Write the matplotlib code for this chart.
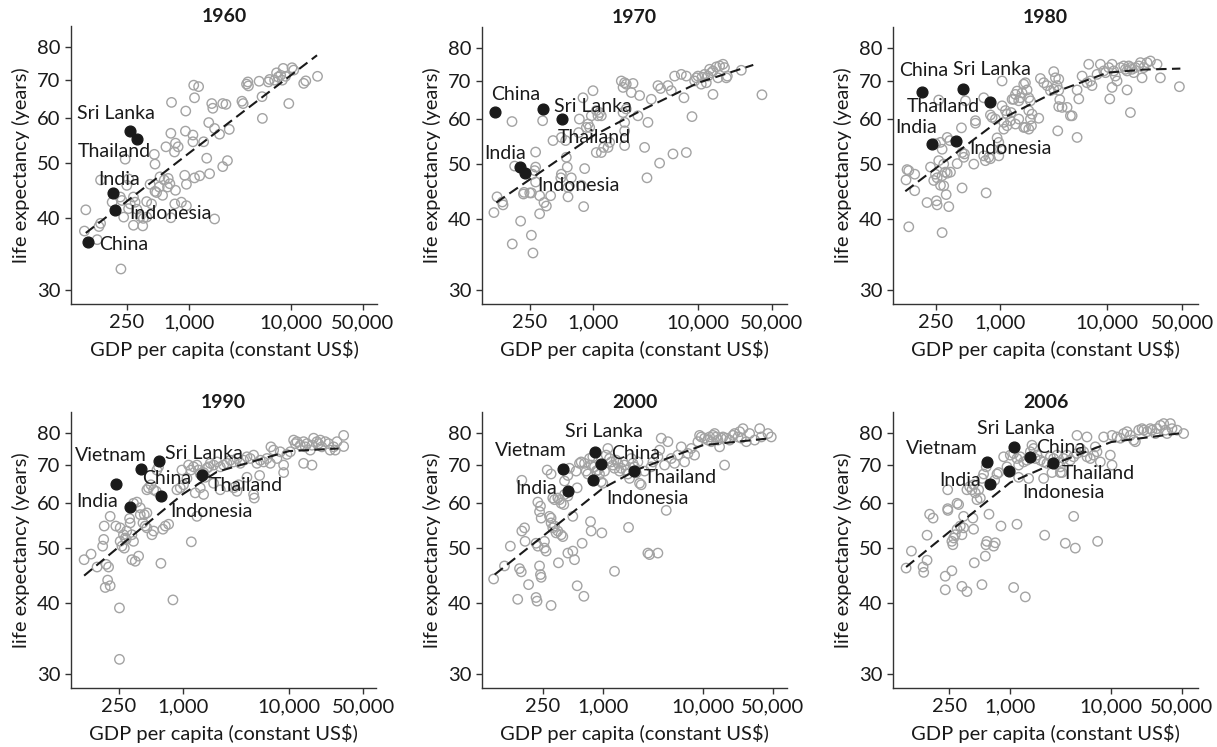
import matplotlib
matplotlib.use("Agg")
import matplotlib.pyplot as plt
from matplotlib.ticker import FixedLocator, FixedFormatter, NullLocator

plt.rcParams['font.family'] = ['Lato', 'DejaVu Sans']

# GDP per capita (constant US$), life expectancy (years) -- grey points
pts_1960 = [(18100, 71.0), (10200, 73.5), (10600, 72.8), (8370, 73.3), (8810, 71.0), (7210, 72.0), (7480, 70.8),
            (6900, 69.9), (5990, 69.4), (4870, 69.6), (5200, 65.4), (5240, 59.9), (3780, 69.4), (3670, 68.8),
            (3830, 68.3), (3310, 64.2), (3400, 63.6), (9490, 63.6), (13270, 69.0), (13900, 69.7), (7900, 71.3),
            (8200, 69.9), (6170, 70.1), (1120, 68.5), (1250, 68.1), (1140, 65.1), (680, 63.9), (936, 61.7),
            (1680, 63.6), (1720, 62.4), (2150, 63.6), (2310, 63.4), (1570, 58.9), (1790, 57.5), (2000, 56.2),
            (2490, 57.3), (1100, 56.0), (1100, 54.5), (930, 56.9), (1400, 54.5), (670, 56.4), (600, 53.4),
            (743, 54.2), (789, 53.4), (727, 52.3), (462, 51.8), (469, 49.8), (240, 50.8), (1500, 51.0),
            (2390, 50.5), (2150, 49.3), (1600, 47.9), (915, 47.6), (950, 45.9), (1140, 47.1), (1280, 47.5),
            (631, 47.0), (655, 46.0), (622, 45.4), (577, 46.7), (516, 45.4), (486, 44.4), (469, 44.6),
            (556, 43.9), (420, 45.9), (389, 42.8), (732, 42.4), (849, 42.7), (950, 42.1), (670, 40.1),
            (1790, 39.9), (389, 40.2), (361, 40.0), (336, 40.3), (312, 41.5), (300, 42.7), (289, 43.6),
            (289, 38.9), (356, 38.8), (269, 42.4), (259, 41.6), (232, 40.2), (223, 43.0), (215, 43.6),
            (179, 42.7), (138, 39.2), (133, 38.7), (128, 36.7), (99, 41.4), (96, 38.0), (218, 32.6),
            (249, 45.7), (259, 46.9), (138, 46.7), (434, 42.4), (525, 47.3), (743, 44.8)]

pts_1970 = [(113, 41.0), (121, 43.7), (136, 42.8), (138, 42.3), (168, 59.3), (169, 36.1), (203, 39.6),
            (178, 49.5), (219, 44.5), (216, 44.2), (257, 44.4), (248, 44.4), (257, 37.4), (266, 34.8),
            (282, 52.4), (282, 49.3), (276, 48.6), (263, 47.9), (282, 46.4), (308, 43.9), (339, 42.7),
            (357, 42.1), (308, 40.8), (329, 59.5), (413, 54.9), (496, 55.6), (392, 43.9), (496, 47.9),
            (490, 47.2), (565, 49.3), (553, 51.3), (545, 54.9), (574, 45.4), (574, 43.7), (617, 47.2),
            (725, 56.7), (736, 59.9), (797, 65.3), (858, 57.9), (827, 49.0), (809, 42.0), (768, 45.8),
            (993, 67.2), (890, 58.7), (923, 57.9), (957, 60.7), (1068, 62.0), (1149, 61.5), (1108, 60.7),
            (1191, 60.7), (1068, 52.3), (1191, 52.3), (1254, 53.4), (1380, 53.4), (1430, 54.5), (1848, 69.9),
            (1988, 69.4), (2060, 69.0), (1920, 68.1), (2388, 69.2), (1920, 61.5), (2060, 62.4), (1988, 59.1),
            (1988, 57.1), (1988, 53.8), (2300, 66.7), (2762, 65.9), (2660, 60.7), (3080, 53.4), (3245, 47.2),
            (3315, 59.1), (3566, 64.9), (4128, 68.6), (4375, 67.8), (4280, 50.1), (5740, 52.0), (7690, 52.3),
            (5140, 68.6), (5530, 67.2), (5950, 71.3), (6890, 71.8), (7690, 71.3), (7300, 65.3), (8710, 60.5),
            (9230, 69.9), (9590, 70.8), (9930, 71.3), (10840, 71.0), (11490, 71.8), (12370, 71.3),
            (12820, 73.3), (13300, 72.3), (13800, 72.8), (14840, 74.0), (15970, 74.3), (17180, 74.8),
            (17760, 73.8), (18490, 70.8), (18900, 71.3), (25690, 73.0), (13800, 66.2), (40400, 66.1),
            (10670, 69.0), (11920, 69.4), (15400, 70.8)]

pts_1980 = [(134, 48.8), (139, 48.6), (131, 46.8), (158, 47.9), (158, 44.8), (139, 38.7), (206, 42.7),
            (252, 43.0), (256, 42.3), (329, 42.0), (285, 37.8), (311, 44.1), (438, 45.3), (735, 44.4),
            (222, 49.3), (247, 47.9), (256, 47.2), (238, 46.7), (265, 50.6), (295, 49.9), (305, 48.3),
            (285, 47.6), (318, 48.1), (341, 48.3), (275, 45.8), (295, 45.7), (265, 64.7), (247, 54.2),
            (275, 54.5), (285, 53.0), (318, 55.6), (337, 54.9), (432, 57.8), (438, 52.3), (454, 51.3),
            (461, 52.0), (394, 50.0), (471, 64.5), (564, 49.9), (584, 59.5), (584, 58.9), (698, 65.3),
            (698, 51.6), (778, 51.3), (806, 51.0), (724, 50.6), (806, 60.9), (836, 60.3), (898, 59.9),
            (931, 55.5), (965, 54.5), (1036, 69.9), (965, 51.6), (1000, 53.0), (1036, 63.2), (1114, 62.0),
            (1154, 61.1), (1074, 59.1), (1154, 58.3), (1074, 57.5), (1240, 59.5), (1285, 64.9), (1332, 64.9),
            (1381, 66.2), (1431, 67.1), (1483, 64.5), (1537, 65.3), (1593, 66.6), (1651, 69.0), (1712, 69.4),
            (1775, 67.4), (1840, 65.3), (1907, 64.5), (1840, 62.0), (1907, 59.9), (1976, 61.1), (1651, 57.9),
            (1381, 58.7), (1483, 59.9), (1258, 61.5), (1950, 58.3), (1840, 57.5), (1712, 57.9), (2281, 60.1),
            (2364, 70.6), (2541, 69.4), (2730, 68.6), (2933, 67.2), (3150, 67.6), (3150, 72.6), (3266, 70.8),
            (3509, 70.4), (3384, 68.6), (3509, 67.3), (3586, 64.8), (3509, 63.0), (3768, 62.8), (3434, 57.1),
            (4198, 62.8), (4510, 60.7), (4680, 60.7), (5210, 55.6), (5400, 65.0), (5210, 67.4), (6690, 74.8),
            (5800, 71.3), (6450, 69.4), (6930, 69.9), (8000, 71.8), (7180, 68.6), (8600, 74.8), (9240, 72.8),
            (9600, 72.3), (10290, 73.8), (11060, 74.8), (11460, 72.8), (11880, 71.3), (12310, 69.9),
            (13220, 73.8), (14210, 74.3), (14730, 73.3), (15270, 72.8), (15830, 74.3), (16410, 73.8),
            (17010, 73.3), (17630, 72.3), (18270, 73.8), (19630, 74.3), (20350, 75.3), (21860, 73.8),
            (23480, 75.3), (25230, 75.8), (29110, 74.8), (31270, 70.8), (11060, 68.1), (10520, 65.0),
            (15270, 67.4), (16410, 61.5), (21090, 70.8), (47100, 68.3)]

pts_1990 = [(117, 47.7), (136, 48.8), (155, 46.3), (175, 50.4), (179, 51.8), (181, 54.7), (189, 46.8),
            (199, 46.3), (206, 56.9), (195, 43.9), (206, 42.9), (185, 42.6), (233, 54.7), (256, 54.3),
            (256, 51.4), (266, 50.4), (280, 50.0), (286, 52.1), (275, 52.8), (292, 51.8), (295, 53.6),
            (252, 39.2), (252, 31.8), (314, 56.4), (318, 55.4), (330, 52.8), (342, 51.4), (330, 47.7),
            (355, 47.4), (382, 48.4), (342, 60.0), (368, 60.3), (396, 58.9), (396, 57.3), (420, 55.4),
            (432, 57.3), (457, 57.7), (457, 63.4), (474, 63.9), (499, 64.7), (529, 63.4), (560, 63.0),
            (568, 68.7), (589, 69.6), (441, 54.7), (457, 54.3), (510, 52.8), (529, 53.6), (620, 47.0),
            (648, 54.0), (682, 54.7), (733, 55.1), (805, 40.5), (878, 63.4), (944, 63.9), (978, 68.7),
            (1014, 64.7), (1091, 66.4), (1131, 70.1), (1190, 68.7), (1260, 69.6), (1355, 70.1), (1405, 68.7),
            (1457, 67.6), (1567, 68.0), (1623, 66.7), (1685, 69.2), (1746, 69.6), (1810, 70.6), (1946, 70.1),
            (2092, 71.0), (2250, 69.6), (2419, 70.1), (2600, 70.6), (2798, 71.5), (3006, 71.0), (3230, 72.0),
            (3472, 70.6), (3735, 71.5), (4015, 72.5), (4315, 72.0), (4640, 73.0), (4990, 70.6), (5370, 71.5),
            (5770, 71.0), (6200, 72.0), (6670, 70.6), (1200, 51.3), (1355, 56.9), (1307, 62.6), (1457, 63.9),
            (1567, 62.2), (1946, 65.1), (2250, 63.4), (2600, 64.2), (3006, 63.9), (3350, 64.7), (3230, 63.0),
            (4015, 66.7), (4640, 62.2), (4710, 61.3), (5290, 67.2), (6760, 75.5), (7170, 74.5), (8280, 74.0),
            (8910, 70.1), (7700, 72.0), (9570, 73.2), (10300, 74.0), (8910, 68.0), (11070, 77.6),
            (11480, 76.5), (11890, 77.1), (12790, 76.0), (13750, 77.1), (14260, 75.5), (14790, 76.5),
            (15900, 74.5), (17090, 78.2), (18370, 77.1), (18980, 76.5), (19770, 77.6), (20400, 75.5),
            (22030, 77.1), (23670, 76.5), (24440, 74.5), (26380, 75.5), (27330, 74.5), (28370, 77.1),
            (32800, 79.1), (32800, 75.6), (13750, 70.6), (16480, 70.1), (16480, 76.0)]

pts_2000 = [(81, 44.1), (104, 46.5), (119, 50.4), (147, 46.0), (153, 45.4), (141, 40.6), (181, 43.1),
            (155, 53.6), (165, 54.3), (167, 51.4), (155, 65.9), (215, 40.9), (220, 40.3), (233, 46.5),
            (238, 44.9), (242, 44.4), (224, 60.3), (238, 59.3), (233, 58.0), (242, 56.5), (215, 51.0),
            (224, 50.4), (261, 51.4), (261, 50.0), (271, 49.4), (278, 68.7), (304, 67.6), (304, 39.6),
            (293, 56.9), (304, 56.5), (316, 54.3), (304, 55.4), (329, 54.7), (341, 53.2), (355, 53.6),
            (383, 52.8), (398, 52.4), (316, 61.3), (329, 60.9), (355, 61.3), (369, 60.9), (383, 60.0),
            (407, 59.7), (414, 62.2), (447, 61.8), (360, 47.1), (447, 49.0), (501, 49.4), (414, 65.7),
            (447, 67.2), (464, 69.2), (541, 68.4), (554, 63.9), (584, 70.6), (607, 71.0), (656, 70.6),
            (681, 68.4), (708, 67.6), (736, 72.0), (764, 70.1), (794, 72.5), (825, 69.6), (858, 68.4),
            (891, 68.7), (926, 67.6), (962, 65.5), (1000, 65.1), (1039, 68.4), (1080, 73.0), (1122, 75.0),
            (1166, 72.0), (1212, 71.0), (1259, 70.1), (1308, 69.2), (1359, 71.5), (1413, 70.6), (1468, 68.4),
            (1526, 69.2), (1585, 71.0), (1647, 70.1), (1711, 68.7), (1778, 67.6), (1848, 66.4), (1920, 72.0),
            (1995, 70.6), (2073, 69.6), (2154, 67.9), (2239, 71.0), (2326, 65.1), (2415, 64.7), (501, 56.9),
            (521, 47.7), (554, 42.9), (646, 41.1), (764, 53.6), (621, 51.0), (753, 55.7), (977, 53.2),
            (1308, 45.5), (1806, 54.4), (2818, 49.0), (2930, 48.7), (3548, 49.0), (4300, 58.3), (2610, 68.4),
            (3040, 69.6), (3162, 71.0), (3548, 72.5), (3690, 74.5), (3830, 78.2), (4140, 70.1), (4470, 77.1),
            (4820, 72.0), (5210, 70.6), (5620, 73.0), (6070, 75.5), (6560, 71.0), (7080, 73.5), (7640, 75.0),
            (8250, 73.0), (8910, 77.1), (9260, 79.1), (9620, 78.6), (10390, 78.2), (11220, 77.6),
            (11660, 78.6), (12120, 77.1), (12590, 79.1), (13080, 79.7), (13590, 78.6), (14130, 77.6),
            (14680, 75.5), (15250, 78.2), (15850, 78.6), (16460, 70.1), (17100, 78.2), (18480, 77.6),
            (19950, 79.1), (20730, 79.7), (22390, 78.6), (23260, 80.3), (24170, 78.2), (25110, 81.3),
            (27120, 77.1), (29290, 79.7), (32880, 77.6), (36900, 81.3), (38320, 78.6), (44670, 79.7),
            (48200, 78.6)]

pts_2006 = [(93, 46.1), (105, 49.4), (137, 46.3), (139, 45.3), (150, 47.6), (150, 52.7), (159, 57.4),
            (172, 56.5), (227, 44.6), (264, 45.6), (227, 42.2), (240, 63.4), (241, 58.3), (240, 58.7),
            (275, 52.1), (270, 50.7), (264, 51.4), (285, 52.8), (297, 54.0), (297, 60.0), (308, 59.7),
            (320, 54.7), (332, 52.8), (345, 54.3), (345, 56.9), (332, 42.8), (372, 41.9), (372, 63.4),
            (396, 64.2), (433, 64.7), (417, 63.4), (450, 62.6), (468, 60.9), (486, 63.4), (505, 61.3),
            (524, 66.4), (544, 67.6), (578, 69.6), (433, 54.0), (426, 56.5), (440, 47.1), (524, 43.1),
            (566, 48.4), (574, 50.7), (587, 51.4), (615, 57.4), (684, 50.4), (710, 51.1), (700, 65.9),
            (738, 67.6), (766, 68.0), (808, 54.7), (859, 72.5), (927, 69.6), (1000, 73.0), (1079, 73.5),
            (1164, 72.0), (1256, 72.5), (1209, 70.1), (1355, 71.0), (1462, 71.5), (1578, 74.0), (1639, 76.0),
            (1702, 75.0), (1769, 72.0), (1837, 73.0), (1982, 71.5), (2138, 71.0), (2307, 70.6), (2489, 72.5),
            (2686, 72.0), (2898, 73.0), (3010, 71.0), (3127, 69.6), (3248, 68.0), (3374, 72.0), (3640, 73.0),
            (3927, 71.5), (4237, 72.5), (4572, 73.5), (4932, 75.0), (5321, 74.0), (5741, 72.5), (6194, 72.0),
            (6683, 73.0), (6942, 75.5), (7210, 74.0), (1079, 42.6), (1164, 55.1), (1408, 41.0), (1519, 66.4),
            (1209, 66.7), (2138, 66.4), (2188, 52.7), (2585, 68.0), (3127, 68.0), (3504, 51.0), (4401, 50.0),
            (4237, 56.9), (7320, 51.4), (4572, 79.1), (5741, 78.6), (7780, 71.0), (9770, 73.0), (10160, 70.1),
            (8400, 78.6), (10160, 79.1), (11380, 78.6), (12280, 78.2), (13250, 79.7), (14300, 80.3),
            (15430, 79.1), (16650, 77.6), (17290, 77.1), (18660, 80.8), (20140, 81.3), (20910, 80.8),
            (22560, 80.3), (24340, 81.3), (25290, 80.8), (27300, 79.7), (28350, 81.3), (30590, 82.4),
            (32990, 83.0), (34270, 80.8), (35590, 79.7), (38390, 83.0), (39870, 81.3), (44670, 80.8),
            (52000, 79.7)]

# highlighted countries: name, GDP per capita, life expectancy
hl_1960 = [("Sri Lanka", 269, 56.9), ("Thailand", 312, 55.2), ("India", 181, 44.3),
           ("Indonesia", 192, 41.3), ("China", 104, 36.3)]
hl_1970 = [("China", 115, 61.7), ("Sri Lanka", 329, 62.3), ("Thailand", 507, 59.8),
           ("India", 202, 49.4), ("Indonesia", 225, 48.1)]
hl_1980 = [("China", 183, 66.9), ("Sri Lanka", 445, 67.6), ("Thailand", 806, 64.2),
           ("India", 230, 54.1), ("Indonesia", 385, 54.8)]
hl_1990 = [("Vietnam", 233, 64.9), ("Sri Lanka", 594, 71.3), ("China", 401, 69.0),
           ("Thailand", 1500, 67.2), ("India", 318, 59.0), ("Indonesia", 620, 61.9)]
hl_2000 = [("Vietnam", 401, 69.0), ("Sri Lanka", 838, 73.9), ("China", 948, 70.3),
           ("Thailand", 2027, 68.5), ("India", 447, 63.2), ("Indonesia", 794, 65.9)]
hl_2006 = [("Vietnam", 588, 71.0), ("Sri Lanka", 1079, 75.4), ("China", 1578, 72.4),
           ("Thailand", 2625, 70.6), ("India", 634, 64.8), ("Indonesia", 977, 68.4)]

# smooth trend (dashed)
trend_1960 = [(99, 37.7), (1000, 52.0), (17900, 77.3)]
trend_1970 = [(119, 42.7), (1000, 56.0), (3000, 62.3), (10000, 69.4), (33400, 74.6)]
trend_1980 = [(129, 44.7), (1000, 59.8), (3160, 66.7), (10000, 72.3), (21800, 73.2), (48100, 73.5)]
trend_1990 = [(117, 44.7), (342, 52.8), (1000, 62.3), (2090, 68.2), (10000, 74.2), (29400, 75.0)]
trend_2000 = [(83, 44.9), (262, 52.8), (1000, 63.8), (2240, 68.9), (10000, 76.0), (44700, 78.1)]
trend_2006 = [(93, 46.3), (255, 53.6), (1000, 65.3), (2140, 69.3), (10000, 77.0), (48200, 79.8)]

years = [1960, 1970, 1980, 1990, 2000, 2006]
x_ticks = [250, 1000, 10000, 50000]
x_ticklabels = ["250", "1,000", "10,000", "50,000"]
y_ticks = [30, 40, 50, 60, 70, 80]

panels = {
    1960: (pts_1960, hl_1960, trend_1960),
    1970: (pts_1970, hl_1970, trend_1970),
    1980: (pts_1980, hl_1980, trend_1980),
    1990: (pts_1990, hl_1990, trend_1990),
    2000: (pts_2000, hl_2000, trend_2000),
    2006: (pts_2006, hl_2006, trend_2006),
}

# label offsets in pixels (dx, dy up) from the dot
offsets = {
    1960: {"Sri Lanka": (-14, 18), "Thailand": (-23, -13), "India": (6, 14), "Indonesia": (55, -3), "China": (36, -2)},
    1970: {"China": (21, 17), "Sri Lanka": (50, 3), "Thailand": (32, -18), "India": (-15, 13), "Indonesia": (53, -12)},
    1980: {"China": (2, 21), "Sri Lanka": (29, 20), "Thailand": (-47, -5), "India": (-16, 17), "Indonesia": (54, -7)},
    1990: {"Vietnam": (-5, 29), "Sri Lanka": (45, 7), "China": (26, -10), "Thailand": (45, -10), "India": (-33, 6), "Indonesia": (51, -16)},
    2000: {"Vietnam": (-32, 18), "Sri Lanka": (9, 21), "China": (35, 11), "Thailand": (47, -7), "India": (-32, 2), "Indonesia": (55, -18)},
    2006: {"Vietnam": (-45, 13), "Sri Lanka": (2, 19), "China": (30, 10), "Thailand": (46, -10), "India": (-30, 4), "Indonesia": (54, -21)},
}

# axes boxes in pixels: left, right, top, bottom, and x limits
W, H = 1217, 747
boxes = {
    1960: (71, 377, 26, 304, (71, 68900)),
    1970: (482, 787, 27, 304, (87, 70000)),
    1980: (893, 1198, 27, 304, (99, 70300)),
    1990: (71, 376, 412, 688, (88, 66200)),
    2000: (482, 787, 412, 688, (62, 69200)),
    2006: (893, 1198, 412, 688, (69, 72100)),
}

fig = plt.figure(figsize=(W / 100, H / 100), dpi=100)
spine_col = "#333333"
txt_col = "#1a1a1a"
px = 0.72  # pixels -> points

for yr in years:
    pts, hl, trend = panels[yr]
    l, r, t, b, xlim = boxes[yr]
    ax = fig.add_axes([l / W, (H - b) / H, (r - l) / W, (b - t) / H])
    ax.set_xscale("log")
    ax.set_yscale("log")

    ax.scatter([p[0] for p in pts], [p[1] for p in pts], s=46, facecolors="none",
               edgecolors="#a3a3a3", linewidths=1.0, zorder=2)
    ax.plot([p[0] for p in trend], [p[1] for p in trend], color=txt_col, lw=1.5,
            dashes=(5, 2.6), zorder=3)
    ax.scatter([h[1] for h in hl], [h[2] for h in hl], s=60, color=txt_col, zorder=4)
    for name, gx, le in hl:
        dx, dy = offsets[yr][name]
        ax.annotate(name, (gx, le), xytext=(dx * px, dy * px), textcoords="offset points",
                    ha="center", va="center", fontsize=14, color=txt_col, zorder=5)

    ax.set_xlim(*xlim)
    ax.set_ylim(28.3, 87)
    ax.xaxis.set_major_locator(FixedLocator(x_ticks))
    ax.xaxis.set_major_formatter(FixedFormatter(x_ticklabels))
    ax.xaxis.set_minor_locator(NullLocator())
    ax.yaxis.set_major_locator(FixedLocator(y_ticks))
    ax.yaxis.set_major_formatter(FixedFormatter([str(v) for v in y_ticks]))
    ax.yaxis.set_minor_locator(NullLocator())

    for s in ["top", "right"]:
        ax.spines[s].set_visible(False)
    for s in ["left", "bottom"]:
        ax.spines[s].set_color(spine_col)
        ax.spines[s].set_linewidth(1.0)
    ax.tick_params(axis="both", direction="out", length=4, width=1.0, color=spine_col,
                   labelsize=14.5, labelcolor=txt_col, pad=3.5)

    ax.set_xlabel("GDP per capita (constant US$)", fontsize=14.5, color=txt_col, labelpad=6)
    ax.set_ylabel("life expectancy (years)", fontsize=14.5, color=txt_col, labelpad=5)
    ax.set_title(str(yr), fontsize=14, fontweight="bold", color=txt_col, pad=3)

fig.savefig("out.png", dpi=100)
